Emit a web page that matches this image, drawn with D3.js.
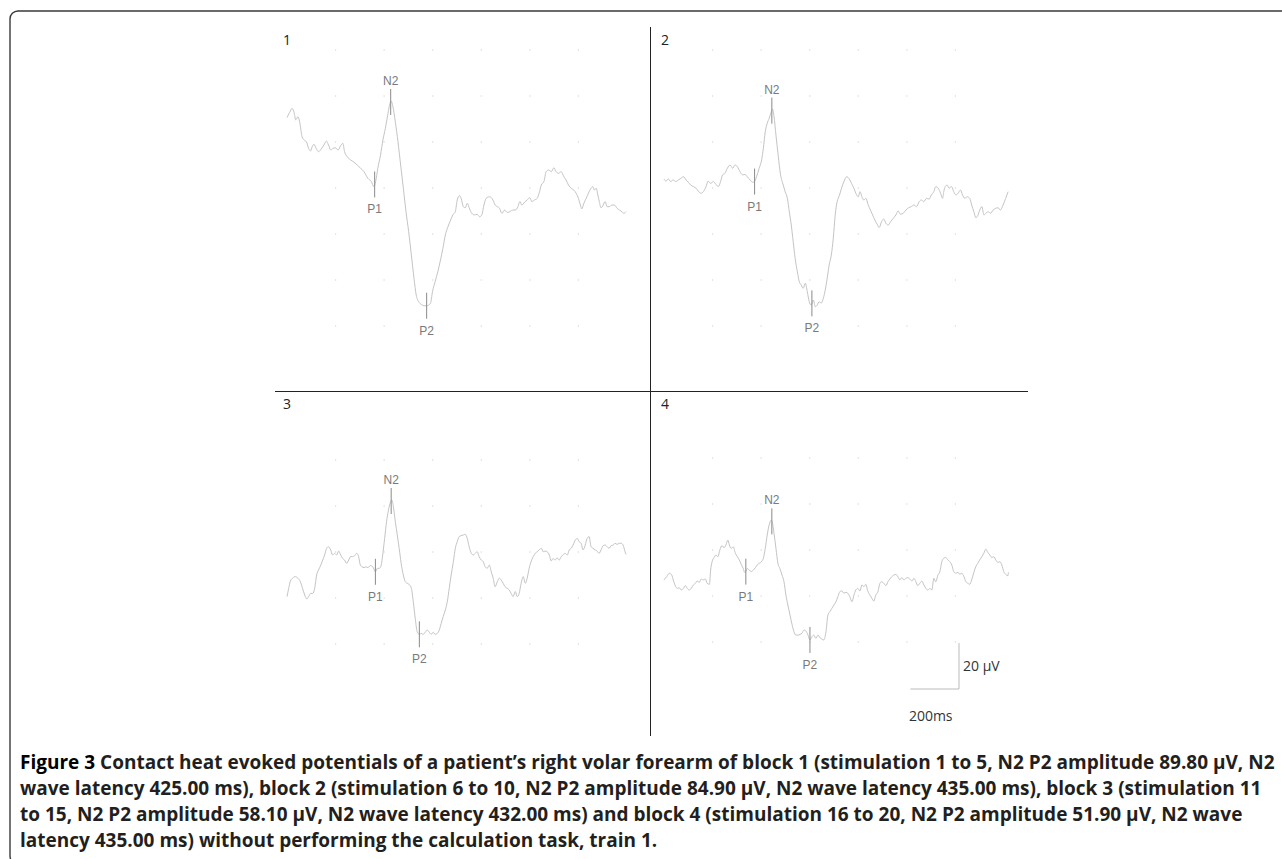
<!DOCTYPE html>
<html>
<head>
<meta charset="utf-8">
<script src="https://cdn.jsdelivr.net/npm/d3@7"></script>
<style>
  body { margin: 0; background: #fff; }
  svg { display: block; }
</style>
</head>
<body>
<svg id="fig" width="1282" height="859"></svg>
<script>
// averaged traces: [latency ms, amplitude µV], negative up
const block1Trace = [
  [0,-30.6],[11,-32.9],[21,-34.6],[29,-32.9],[36,-29.6],[45,-31.0],[52,-28.8],[62,-22.3],[70,-20.9],[80,-20.1],
  [89,-17.2],[97,-16.1],[104,-18.0],[111,-19.0],[121,-17.0],[130,-15.8],[141,-17.0],[152,-18.7],[162,-20.4],[171,-18.7],
  [180,-16.5],[189,-17.2],[199,-17.5],[210,-16.5],[221,-18.4],[230,-19.4],[237,-15.8],[248,-13.6],[262,-12.2],[276,-11.2],
  [289,-10.0],[303,-8.6],[317,-7.1],[333,-4.2],[347,-2.8],[358,-0.6],[365,-2.8],[374,-8.6],[385,-14.3],[395,-20.9],
  [405,-25.9],[416,-32.5],[424,-36.8],[429,-37.8],[436,-35.4],[446,-28.8],[457,-20.1],[468,-10.0],[479,0.1],[490,10.3],
  [501,19.0],[512,29.1],[523,39.3],[532,46.5],[542,49.4],[553,50.6],[564,51.2],[575,51.2],[583,50.9],[591,50.1],
  [599,45.1],[610,40.7],[621,36.4],[632,31.3],[642,26.2],[652,20.4],[663,16.8],[674,13.9],[683,11.7],[693,10.3],
  [701,5.2],[711,3.3],[717,4.5],[726,8.1],[734,8.6],[742,6.7],[752,9.1],[761,11.0],[772,11.7],[783,11.4],
  [793,12.5],[802,11.7],[811,7.4],[820,4.5],[834,3.8],[848,5.2],[857,7.4],[866,8.1],[875,8.8],[885,11.0],
  [896,9.6],[907,10.6],[918,10.3],[929,9.6],[940,9.6],[951,8.1],[959,5.9],[967,7.4],[978,6.2],[989,5.2],
  [1000,4.2],[1008,5.9],[1019,5.2],[1030,4.5],[1040,1.6],[1047,-1.3],[1058,-2.8],[1067,-7.1],[1077,-7.8],[1088,-7.1],
  [1099,-8.8],[1108,-7.1],[1118,-6.4],[1129,-7.1],[1140,-4.9],[1149,-3.5],[1159,-1.3],[1170,0.1],[1181,0.9],[1191,2.3],
  [1200,4.5],[1208,7.4],[1214,9.1],[1222,6.7],[1232,4.5],[1241,2.3],[1252,0.1],[1259,-0.6],[1266,0.9],[1273,0.1],
  [1280,3.0],[1286,5.9],[1293,8.6],[1302,7.4],[1310,5.9],[1318,8.1],[1328,8.1],[1337,7.4],[1348,7.4],[1359,8.8],
  [1369,9.6],[1379,10.3],[1387,11.0],[1396,10.3]
];
const block2Trace = [
  [0,-3.9],[8,-3.0],[18,-3.9],[27,-2.8],[38,-3.5],[49,-2.8],[59,-3.5],[69,-4.2],[80,-4.9],[91,-3.5],
  [100,-2.5],[110,-1.3],[121,-0.6],[132,0.1],[141,1.3],[151,2.3],[162,1.6],[173,-0.6],[182,-3.0],[192,-2.0],
  [203,-2.8],[214,-1.6],[224,-0.6],[233,-2.8],[241,-5.7],[251,-6.4],[261,-8.6],[272,-10.0],[283,-8.6],[292,-10.0],
  [302,-9.3],[313,-7.1],[324,-5.7],[333,-5.9],[343,-4.9],[354,-3.5],[365,-2.5],[373,-2.8],[381,-4.9],[392,-8.6],
  [402,-12.2],[409,-17.2],[417,-24.5],[425,-28.1],[433,-30.3],[442,-33.2],[447,-34.3],[453,-31.0],[461,-23.0],[470,-14.3],
  [480,-5.7],[491,-1.3],[499,1.6],[508,4.5],[516,10.3],[524,16.1],[532,23.3],[540,30.6],[549,36.4],[557,40.7],
  [565,42.2],[573,43.6],[582,41.4],[590,45.1],[598,49.4],[606,50.9],[615,48.7],[623,51.6],[631,50.9],[639,49.4],
  [647,50.1],[656,48.0],[664,44.3],[672,39.3],[680,33.5],[689,29.1],[697,21.9],[705,11.7],[713,5.9],[722,3.3],
  [731,0.1],[741,-2.8],[752,-4.9],[763,-3.9],[772,-2.0],[782,0.1],[790,2.3],[800,3.8],[807,1.6],[815,3.8],
  [823,5.2],[831,4.5],[841,7.4],[850,9.6],[859,11.7],[868,13.9],[878,15.8],[886,17.2],[896,14.6],[905,13.5],
  [914,15.4],[923,16.1],[933,14.6],[944,13.2],[955,11.7],[964,10.0],[974,11.4],[985,11.0],[996,9.6],[1007,8.6],
  [1018,8.1],[1029,7.4],[1040,8.1],[1051,5.9],[1060,5.2],[1070,5.9],[1081,4.5],[1092,4.8],[1101,3.0],[1111,1.6],
  [1119,-0.6],[1129,0.1],[1139,2.3],[1147,4.5],[1152,1.6],[1158,-0.6],[1166,-1.3],[1174,0.1],[1184,-0.6],[1193,1.6],
  [1202,3.0],[1211,2.3],[1221,0.9],[1229,3.0],[1239,4.5],[1248,3.8],[1259,4.5],[1267,7.4],[1276,10.3],[1284,12.9],
  [1292,12.0],[1300,9.6],[1309,8.1],[1317,11.7],[1325,11.0],[1335,10.3],[1344,11.0],[1355,9.6],[1366,8.8],[1376,8.6],
  [1385,9.6],[1396,7.4],[1407,4.5],[1417,1.6]
];
const block3Trace = [
  [0,19.4],[7,15.8],[14,12.6],[23,11.4],[34,10.7],[45,11.4],[55,12.9],[64,15.8],[73,18.7],[82,20.4],
  [89,19.4],[97,18.0],[106,18.0],[114,15.8],[122,10.0],[130,7.8],[139,5.7],[147,3.5],[155,1.3],[163,-1.6],
  [171,-2.3],[180,-0.9],[188,1.3],[196,0.6],[204,1.3],[213,-0.4],[221,1.3],[229,2.8],[237,3.5],[246,4.9],
  [254,3.5],[262,2.0],[270,2.0],[278,1.6],[287,0.6],[295,2.0],[302,5.7],[309,6.4],[317,6.8],[325,6.4],
  [333,6.8],[343,5.9],[353,6.4],[364,8.6],[372,7.1],[380,7.1],[388,5.7],[394,1.3],[402,-5.9],[410,-13.2],
  [418,-18.3],[427,-21.9],[432,-22.6],[438,-19.7],[446,-13.2],[454,-7.4],[462,-1.6],[470,4.9],[479,10.0],[487,12.9],
  [495,13.6],[503,14.1],[512,15.8],[520,21.6],[528,28.8],[536,34.6],[545,35.8],[553,35.4],[561,35.8],[569,34.9],
  [577,33.9],[586,34.9],[594,35.8],[602,34.9],[610,35.8],[619,35.4],[627,33.9],[635,31.0],[643,28.1],[652,25.2],
  [660,21.6],[668,15.8],[676,10.0],[685,4.2],[693,-1.6],[701,-4.5],[709,-6.7],[717,-7.1],[726,-7.4],[734,-7.7],
  [742,-5.9],[750,-2.3],[759,0.6],[767,1.3],[775,0.6],[783,-0.1],[791,2.0],[800,3.5],[808,4.2],[816,6.4],
  [824,7.1],[833,5.7],[841,8.6],[849,11.4],[857,15.1],[866,12.9],[874,11.4],[882,12.2],[890,13.6],[898,15.1],
  [907,15.8],[915,16.5],[923,18.0],[931,19.4],[940,17.2],[948,19.4],[956,18.0],[964,13.6],[973,10.7],[981,13.6],
  [989,11.4],[997,7.1],[1005,4.2],[1014,2.0],[1022,0.6],[1030,-0.1],[1038,-0.9],[1047,-1.6],[1055,-0.1],[1063,-0.4],
  [1071,-0.1],[1080,1.3],[1088,3.9],[1096,2.8],[1104,3.5],[1112,2.5],[1121,3.5],[1129,2.0],[1137,1.3],[1145,0.6],
  [1154,1.3],[1162,-0.9],[1170,-1.6],[1178,-3.0],[1187,-5.2],[1195,-5.9],[1203,-4.5],[1211,-3.8],[1219,-0.9],[1228,-3.0],
  [1236,-5.9],[1244,-6.7],[1252,-2.3],[1260,-1.6],[1269,-0.9],[1277,-0.4],[1285,0.6],[1293,-0.9],[1302,-2.8],[1310,-3.0],
  [1318,-2.3],[1326,-1.6],[1335,-2.8],[1343,-3.0],[1351,-3.8],[1359,-3.3],[1368,-3.8],[1376,-3.8],[1384,-3.0],[1392,-0.1],
  [1396,1.0]
];
const block4Trace = [
  [0,13.0],[11,11.6],[22,10.1],[32,10.9],[38,13.0],[45,15.2],[55,16.7],[63,16.4],[71,17.4],[80,16.7],
  [88,15.5],[96,16.7],[104,17.4],[112,16.7],[121,15.2],[129,14.5],[137,13.5],[145,14.1],[154,12.6],[162,13.0],
  [170,12.6],[178,14.5],[187,14.9],[192,8.7],[198,5.1],[206,3.3],[214,2.2],[222,2.9],[230,0.0],[239,-1.9],
  [247,-1.0],[255,-2.2],[263,-4.3],[269,-2.2],[277,-0.7],[285,-1.4],[294,1.4],[302,2.9],[310,4.3],[318,6.2],
  [326,8.0],[332,9.7],[337,9.4],[343,8.0],[351,8.7],[359,9.4],[368,8.7],[376,7.7],[384,6.5],[392,5.8],
  [401,5.1],[409,3.6],[417,-0.7],[425,-6.5],[433,-10.9],[442,-13.0],[447,-11.6],[453,-7.2],[461,-0.7],[469,5.8],
  [477,8.0],[486,10.9],[494,13.8],[502,19.6],[510,23.9],[519,28.3],[527,32.3],[535,35.5],[543,37.0],[551,37.0],
  [560,36.7],[568,36.2],[576,34.8],[584,35.2],[593,37.0],[601,39.1],[609,37.7],[617,37.0],[625,38.4],[634,37.0],
  [642,38.1],[650,38.7],[658,39.1],[667,35.5],[675,28.3],[683,26.8],[691,25.4],[700,23.9],[708,22.5],[716,20.3],
  [724,18.1],[732,17.8],[741,18.8],[749,18.4],[757,18.8],[765,20.3],[774,22.5],[782,19.6],[790,17.4],[798,16.7],
  [807,17.8],[815,15.2],[823,15.9],[831,14.9],[839,17.8],[848,19.6],[856,21.0],[864,22.2],[872,19.6],[881,18.1],
  [889,14.5],[897,13.8],[905,14.5],[914,15.5],[922,13.8],[930,12.6],[938,11.6],[946,10.9],[955,10.6],[963,11.6],
  [971,13.0],[979,12.0],[988,13.0],[996,12.3],[1004,12.0],[1012,12.6],[1021,13.5],[1029,12.3],[1037,13.8],[1045,15.5],
  [1053,14.5],[1062,13.5],[1070,15.2],[1078,16.7],[1086,17.4],[1095,16.7],[1103,17.4],[1111,12.3],[1119,13.8],[1128,10.9],
  [1136,9.4],[1144,5.1],[1152,3.6],[1160,3.3],[1169,4.3],[1177,5.1],[1185,6.5],[1193,9.4],[1202,10.1],[1210,9.7],
  [1218,10.6],[1226,10.1],[1235,11.6],[1243,13.8],[1251,14.5],[1259,14.9],[1267,13.0],[1276,9.7],[1284,7.2],[1292,5.8],
  [1300,4.3],[1309,2.9],[1317,1.4],[1325,-0.4],[1333,1.0],[1342,2.2],[1350,3.3],[1358,2.9],[1366,4.3],[1375,5.4],
  [1383,5.1],[1391,6.5],[1399,9.4],[1407,10.6],[1416,11.2],[1418,9.7]
];

// peak markers (latency in ms as placed in each panel)
const peakNames = ["P1", "N2", "P2"];
const block1Peaks = [361, 427, 575];
const block2Peaks = [373, 444, 609];
const block3Peaks = [364, 429, 545];
const block4Peaks = [337, 444, 601];

const blockLabels = ["1", "2", "3", "4"];
const gridMs = [200, 400, 600, 800, 1000, 1200];
const gridUvTop = [-60, -40, -20, 0, 20, 40, 60];
const gridUvBottom = [-40, -20, 0, 20, 40];

const captionLines = [
  "Contact heat evoked potentials of a patient\u2019s right volar forearm of block 1 (stimulation 1 to 5, N2 P2 amplitude 89.80 \u00b5V, N2",
  "wave latency 425.00 ms), block 2 (stimulation 6 to 10, N2 P2 amplitude 84.90 \u00b5V, N2 wave latency 435.00 ms), block 3 (stimulation 11",
  "to 15, N2 P2 amplitude 58.10 \u00b5V, N2 wave latency 432.00 ms) and block 4 (stimulation 16 to 20, N2 P2 amplitude 51.90 \u00b5V, N2 wave",
  "latency 435.00 ms) without performing the calculation task, train 1."
];

// layout: where t=0 / 0 µV sit for each quadrant
const panels = [
  { trace: block1Trace, peaks: block1Peaks, grid: gridUvTop, x0: 287, y0: 188, lx: 283, ly: 45 },
  { trace: block2Trace, peaks: block2Peaks, grid: gridUvTop, x0: 664, y0: 188, lx: 661, ly: 45 },
  { trace: block3Trace, peaks: block3Peaks, grid: gridUvBottom, x0: 287, y0: 552, lx: 283, ly: 409 },
  { trace: block4Trace, peaks: block4Peaks, grid: gridUvBottom, x0: 664, y0: 550, lx: 661, ly: 409 }
];

const pxPerMs = 340 / 1400;
const pxPerUv = 46 / 20;

const svg = d3.select("#fig");

// frame with rounded corner (bottom and right run off the page)
svg.append("rect")
  .attr("x", 10).attr("y", 11)
  .attr("width", 1300).attr("height", 853)
  .attr("rx", 8)
  .attr("fill", "none")
  .attr("stroke", "#3a3a3a")
  .attr("stroke-width", 1.4);

// quadrant dividers
svg.append("line")
  .attr("x1", 650.5).attr("x2", 650.5).attr("y1", 27).attr("y2", 736)
  .attr("stroke", "#222").attr("stroke-width", 1);
svg.append("line")
  .attr("x1", 275).attr("x2", 1028).attr("y1", 391.5).attr("y2", 391.5)
  .attr("stroke", "#222").attr("stroke-width", 1);

const bisect = d3.bisector((d) => d[0]).left;
function ampAt(trace, ms) {
  const i = Math.max(1, Math.min(trace.length - 1, bisect(trace, ms)));
  const a = trace[i - 1], b = trace[i];
  const f = (ms - a[0]) / (b[0] - a[0]);
  return a[1] + f * (b[1] - a[1]);
}

panels.forEach((p, k) => {
  const x = d3.scaleLinear().domain([0, 1400]).range([p.x0, p.x0 + 1400 * pxPerMs]);
  const y = d3.scaleLinear().domain([0, 20]).range([p.y0, p.y0 + 20 * pxPerUv]);
  p.x = x; p.y = y;

  const g = svg.append("g");

  // dotted grid
  p.grid.forEach((uv) => {
    g.selectAll(null)
      .data(gridMs)
      .enter()
      .append("rect")
      .attr("x", (ms) => x(ms) - 0.6)
      .attr("y", y(uv) - 0.6)
      .attr("width", 1.2).attr("height", 1.2)
      .attr("fill", "#d6d6d6");
  });

  g.append("text")
    .attr("x", p.lx).attr("y", p.ly)
    .style("font-family", "'Open Sans', sans-serif")
    .style("font-size", "14px")
    .style("fill", "#222")
    .text(blockLabels[k]);

  const line = d3.line().x((d) => x(d[0])).y((d) => y(d[1])).curve(d3.curveMonotoneX);
  g.append("path")
    .datum(p.trace)
    .attr("d", line)
    .attr("fill", "none")
    .attr("stroke", "#c4c4c4")
    .attr("stroke-width", 1);

  // peak ticks and labels
  p.peaks.forEach((ms, j) => {
    const cx = x(ms);
    const cy = y(ampAt(p.trace, ms));
    g.append("line")
      .attr("x1", cx).attr("x2", cx)
      .attr("y1", cy - 13).attr("y2", cy + 13)
      .attr("stroke", "#8a8a8a").attr("stroke-width", 1);
    const above = peakNames[j] === "N2";
    g.append("text")
      .attr("x", cx)
      .attr("y", above ? cy - 17 : cy + 29)
      .attr("text-anchor", "middle")
      .style("font-family", "'Liberation Sans', Arial, sans-serif")
      .style("font-size", "12px")
      .style("fill", "#7a7a7a")
      .text(peakNames[j]);
  });
});

// calibration bar (200 ms / 20 µV) drawn with block 4 scales
const p4 = panels[3];
const barMs = 200, barUv = 20;
const barRightX = 959, barBottomY = 689;
const barW = p4.x(barMs) - p4.x(0);
const barH = p4.y(barUv) - p4.y(0);
svg.append("path")
  .attr("d", `M${barRightX - barW},${barBottomY}H${barRightX}V${barBottomY - barH}`)
  .attr("fill", "none")
  .attr("stroke", "#bbb")
  .attr("stroke-width", 1);
svg.append("text")
  .attr("x", barRightX + 4).attr("y", barBottomY - barH / 2 + 5)
  .style("font-family", "'Open Sans', sans-serif")
  .style("font-size", "14px")
  .style("fill", "#333")
  .text(barUv + " \u00b5V");
svg.append("text")
  .attr("x", barRightX - barW / 2 - 4).attr("y", 721)
  .attr("text-anchor", "middle")
  .style("font-family", "'Open Sans', sans-serif")
  .style("font-size", "14px")
  .style("fill", "#333")
  .text(barMs + "ms");

// caption
const cap = svg.append("g")
  .style("font-family", "'Open Sans', sans-serif")
  .style("font-size", "19px")
  .style("font-weight", "bold")
  .style("fill", "#231f20");
captionLines.forEach((t, i) => {
  const tx = cap.append("text").attr("x", 20).attr("y", 769 + i * 26);
  if (i === 0) {
    tx.append("tspan").style("fill", "#000").text("Figure 3 ");
  }
  tx.append("tspan").text(t);
});
</script>
</body>
</html>
